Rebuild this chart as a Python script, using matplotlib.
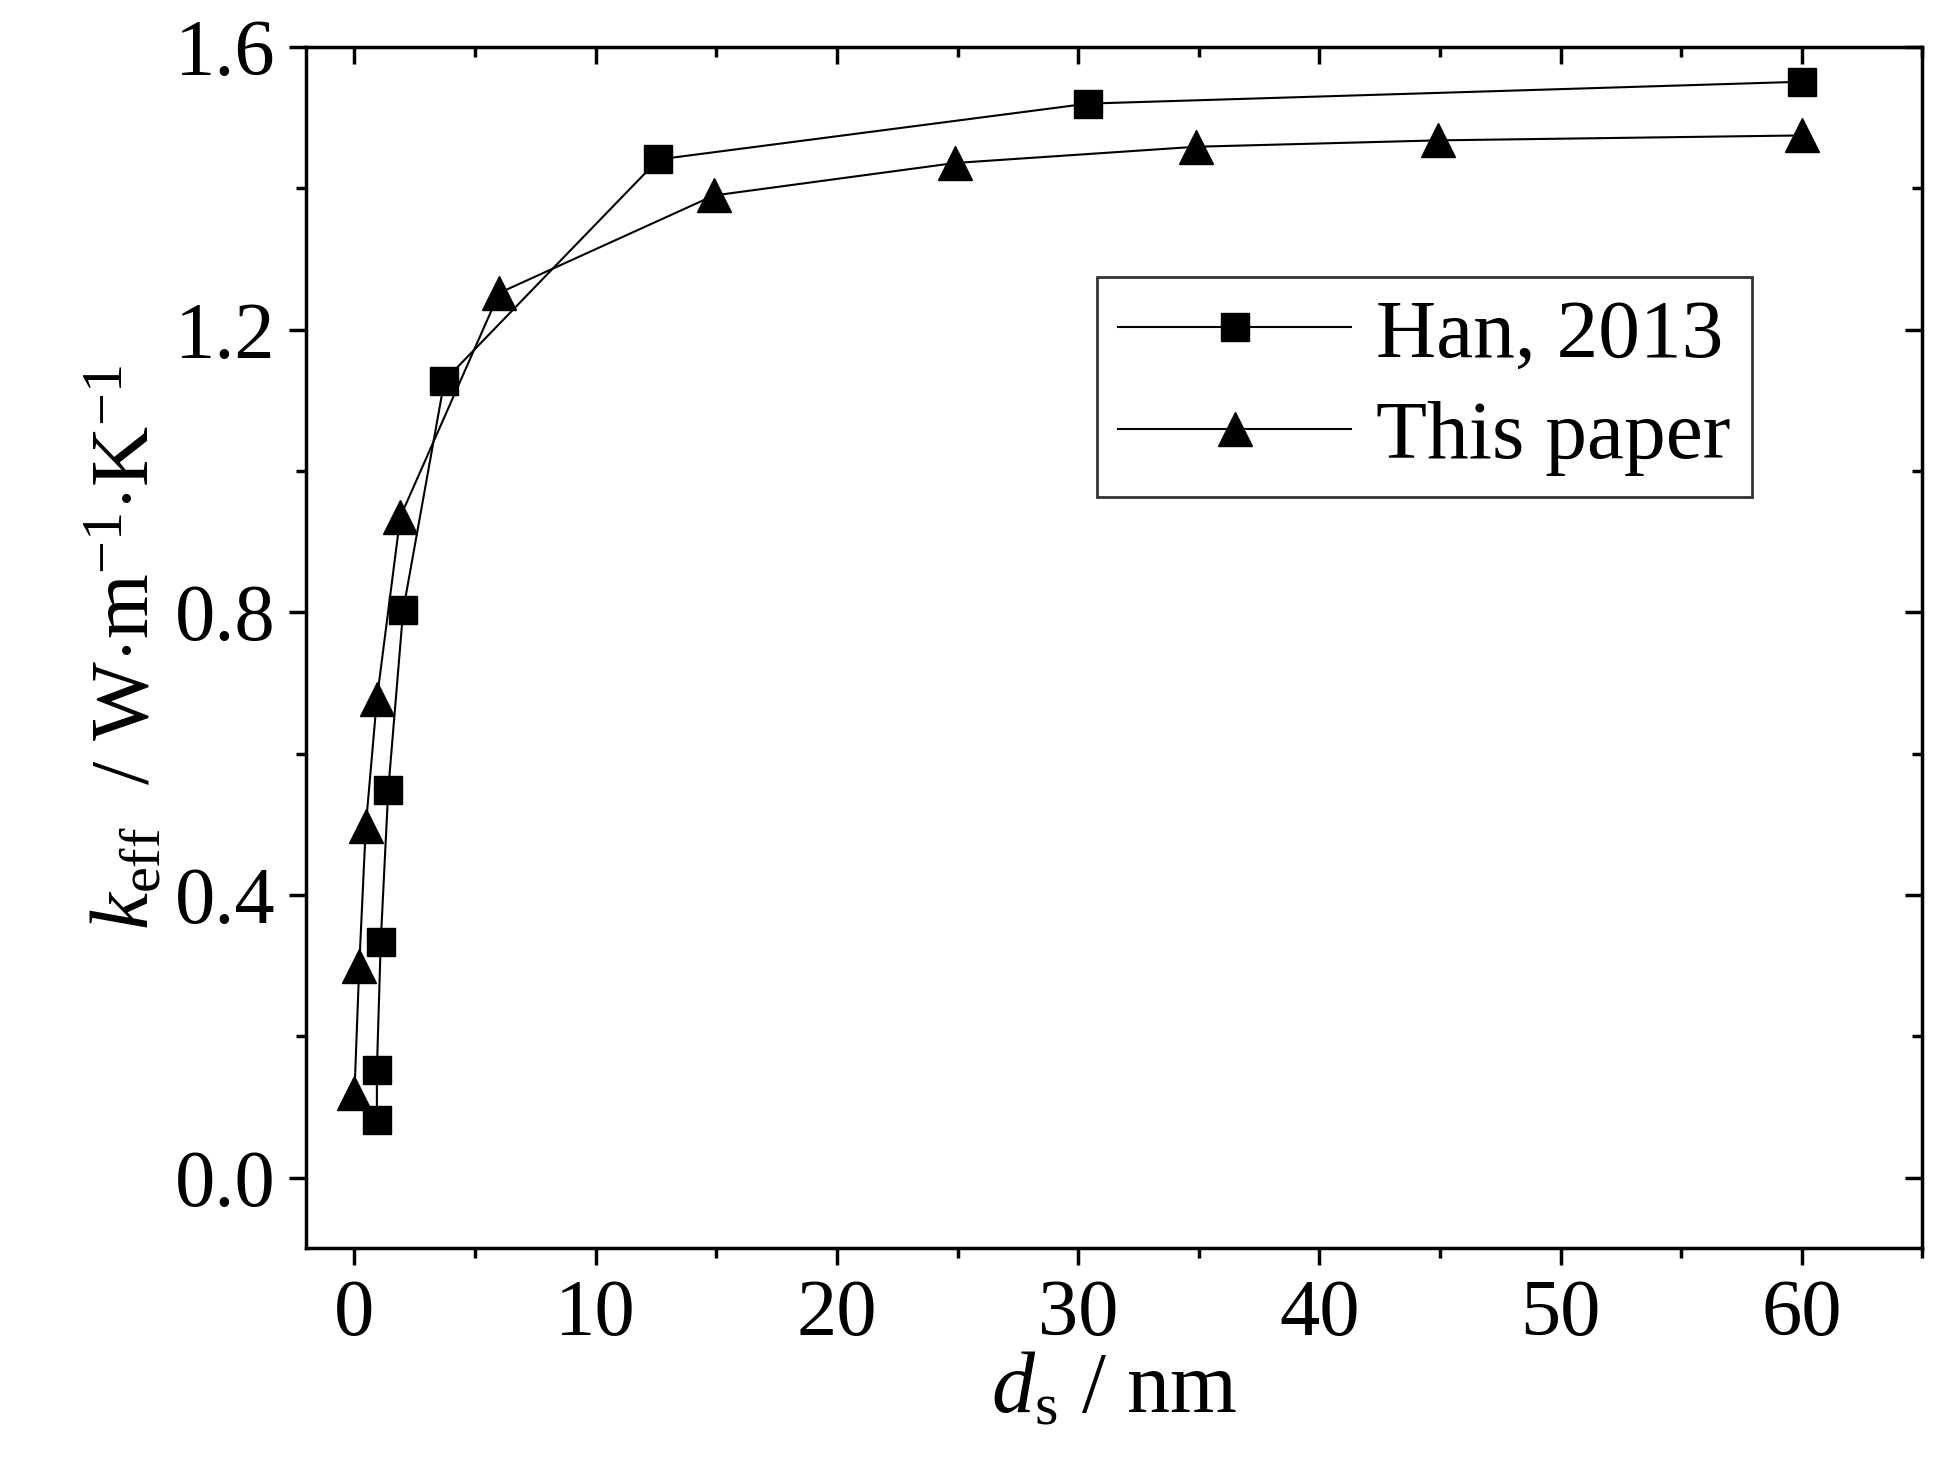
import matplotlib.pyplot as plt
from matplotlib.ticker import MultipleLocator

plt.rcParams['font.family'] = ['Liberation Serif', 'DejaVu Serif']
plt.rcParams['mathtext.fontset'] = 'custom'
plt.rcParams['mathtext.rm'] = 'Liberation Serif'
plt.rcParams['mathtext.it'] = 'Liberation Serif:italic'

han_x = [0.93, 0.93, 1.09, 1.4, 2.02, 3.73, 12.6, 30.4, 60]
han_y = [0.081, 0.152, 0.334, 0.548, 0.803, 1.128, 1.441, 1.520, 1.551]
this_x = [0.0, 0.2, 0.47, 0.93, 1.9, 6.0, 14.9, 24.9, 34.9, 44.9, 60]
this_y = [0.12, 0.30, 0.497, 0.677, 0.935, 1.252, 1.39, 1.436, 1.459, 1.468, 1.475]

fig = plt.figure(figsize=(19.38, 14.72), dpi=100)
ax = fig.add_axes([0.158, 0.152, 0.834, 0.816])
ax.plot(han_x, han_y, 'k-', marker='s', markersize=20, linewidth=1.5, label='Han, 2013')
ax.plot(this_x, this_y, 'k-', marker='^', markersize=24, linewidth=1.5, label='This paper')

ax.set_xlim(-2, 65)
ax.set_ylim(-0.1, 1.6)
ax.xaxis.set_major_locator(MultipleLocator(10))
ax.xaxis.set_minor_locator(MultipleLocator(5))
ax.yaxis.set_major_locator(MultipleLocator(0.4))
ax.yaxis.set_minor_locator(MultipleLocator(0.2))
ax.yaxis.set_major_formatter(plt.FuncFormatter(lambda v, p: f'{v:.1f}'))
for s in ax.spines.values():
    s.set_linewidth(2.5)
ax.tick_params(which='both', direction='out', width=2.5, labelsize=58, top=False, right=False)
ax.tick_params(which='major', length=12, pad=10)
ax.tick_params(which='minor', length=7)
ax2 = ax.secondary_xaxis('top')
ax2.xaxis.set_major_locator(MultipleLocator(10))
ax2.xaxis.set_minor_locator(MultipleLocator(5))
ax2.tick_params(which='both', direction='in', width=2.5, labeltop=False)
ax2.tick_params(which='major', length=12)
ax2.tick_params(which='minor', length=7)
ax3 = ax.secondary_yaxis('right')
ax3.yaxis.set_major_locator(MultipleLocator(0.4))
ax3.yaxis.set_minor_locator(MultipleLocator(0.2))
ax3.tick_params(which='both', direction='in', width=2.5, labelright=False)
ax3.tick_params(which='major', length=12)
ax3.tick_params(which='minor', length=7)

ax.set_xlabel(r'$d_{\mathrm{s}}$ / nm', fontsize=62, labelpad=0)
ax.set_ylabel(r'$k_{\mathrm{eff}}$  / W$\cdot$m$^{-1}$$\cdot$K$^{-1}$', fontsize=60, labelpad=6)

leg = ax.legend(loc='upper right', bbox_to_anchor=(0.92, 0.843), fontsize=60, frameon=True,
                fancybox=False, edgecolor='black', handlelength=2.8, handletextpad=0.3,
                borderpad=0.25, labelspacing=0.3)
leg.get_frame().set_linewidth(2)

fig.savefig('out.png', dpi=100)
